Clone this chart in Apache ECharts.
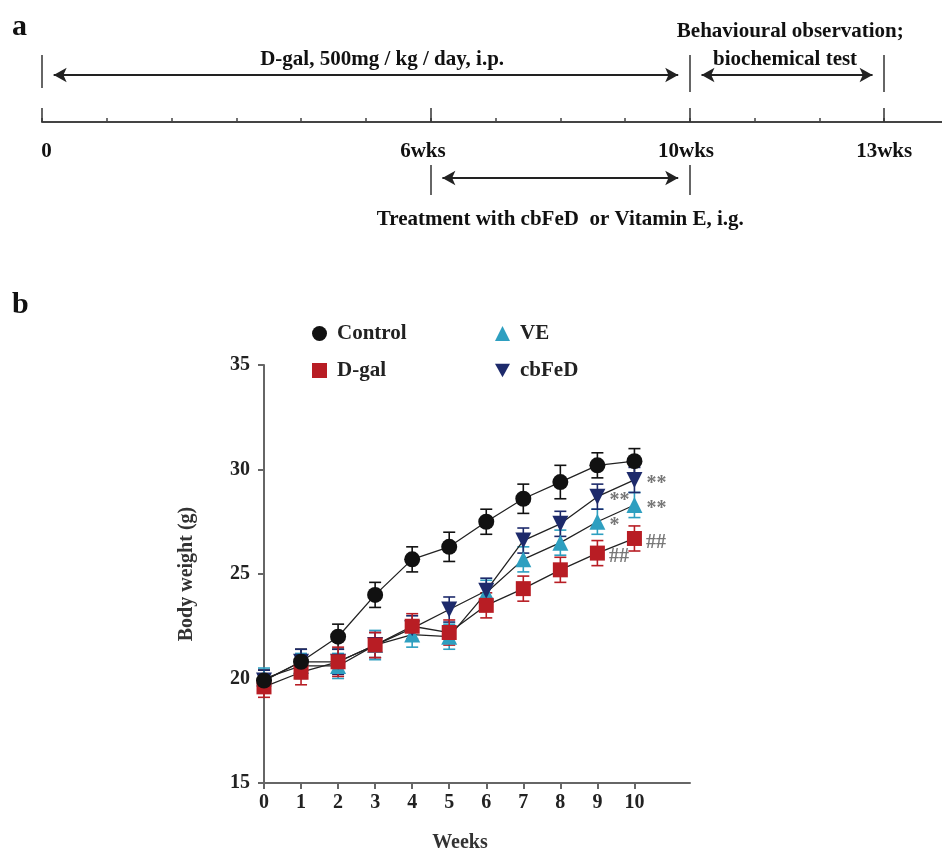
<!DOCTYPE html>
<html>
<head>
<meta charset="utf-8">
<title>Body weight</title>
<script src="https://cdn.jsdelivr.net/npm/echarts@6/dist/echarts.min.js"></script>
<style>
  html, body { margin: 0; padding: 0; background: #fff; }
  #main { width: 942px; height: 850px; }
</style>
</head>
<body>
<div id="main"></div>
<script>
// panel b data (g, mean and error bar)
const weeks = [0, 1, 2, 3, 4, 5, 6, 7, 8, 9, 10];
const control = [19.9, 20.8, 22.0, 24.0, 25.7, 26.3, 27.5, 28.6, 29.4, 30.2, 30.4];
const controlErr = [0.5, 0.6, 0.6, 0.6, 0.6, 0.7, 0.6, 0.7, 0.8, 0.6, 0.6];
const dgal = [19.6, 20.3, 20.8, 21.6, 22.5, 22.2, 23.5, 24.3, 25.2, 26.0, 26.7];
const dgalErr = [0.5, 0.6, 0.7, 0.6, 0.6, 0.6, 0.6, 0.6, 0.6, 0.6, 0.6];
const ve = [20.0, 20.6, 20.6, 21.6, 22.1, 22.0, 24.1, 25.7, 26.5, 27.5, 28.3];
const veErr = [0.5, 0.6, 0.6, 0.7, 0.6, 0.6, 0.6, 0.6, 0.6, 0.6, 0.6];
const cbfed = [19.9, 20.8, 20.8, 21.6, 22.4, 23.3, 24.2, 26.6, 27.4, 28.7, 29.5];
const cbfedErr = [0.5, 0.6, 0.6, 0.6, 0.6, 0.6, 0.6, 0.6, 0.6, 0.6, 0.6];
// significance marks (index = week)
const dgalMarks = ['', '', '', '', '', '', '', '', '', '##', '##'];
const veMarks = ['', '', '', '', '', '', '', '', '', '*', '**'];
const cbfedMarks = ['', '', '', '', '', '', '', '', '', '**', '**'];
const yTicks = [15, 20, 25, 30, 35];

// panel a: timeline in weeks
const timelineTicks = [0, 6, 10, 13];
const timelineLabels = ['0', '6wks', '10wks', '13wks'];
const phaseFrom = [0, 10, 6];
const phaseTo = [10, 13, 10];
const phaseText = ['D-gal, 500mg / kg / day, i.p.', 'biochemical test', 'Treatment with cbFeD  or Vitamin E, i.g.'];
const phaseSide = [1, 1, -1]; // above / below the time line

const SERIF = '"Liberation Serif", "DejaVu Serif", serif';
const RED = '#b81d24', CYAN = '#2e9fc0', NAVY = '#1d2a6b', BLACK = '#111';
const DOWN = 'path://M0,0L10,0L5,9Z';

var chart = echarts.init(document.getElementById('main'), null, { renderer: 'canvas' });

function errSeries(name, vals, errs, color) {
  return {
    name: name + ' sem',
    type: 'custom',
    xAxisIndex: 0, yAxisIndex: 0,
    z: 1,
    data: weeks.map((w, i) => [w, vals[i] - errs[i], vals[i] + errs[i]]),
    renderItem: function (params, api) {
      const lo = api.coord([api.value(0), api.value(1)]);
      const hi = api.coord([api.value(0), api.value(2)]);
      const w = 6;
      const style = { stroke: color, lineWidth: 1.6 };
      return {
        type: 'group',
        children: [
          { type: 'line', shape: { x1: lo[0], y1: lo[1], x2: hi[0], y2: hi[1] }, style: style },
          { type: 'line', shape: { x1: lo[0] - w, y1: lo[1], x2: lo[0] + w, y2: lo[1] }, style: style },
          { type: 'line', shape: { x1: hi[0] - w, y1: hi[1], x2: hi[0] + w, y2: hi[1] }, style: style }
        ]
      };
    }
  };
}

function lineSeries(name, vals, color, symbol, size, marks) {
  return {
    name: name,
    type: 'line',
    xAxisIndex: 0, yAxisIndex: 0,
    z: 3,
    color: color,
    symbol: symbol,
    symbolSize: size,
    showAllSymbol: true,
    data: weeks.map((w, i) => [w, vals[i]]),
    lineStyle: { color: '#222', width: 1.3 },
    itemStyle: { color: color, opacity: 1 },
    label: {
      show: !!marks,
      position: 'right',
      distance: 4,
      offset: [0, 4],
      color: '#777',
      fontFamily: SERIF,
      fontSize: 20,
      fontWeight: 'bold',
      formatter: p => (marks ? marks[p.dataIndex] : '')
    }
  };
}

// timeline helpers
const arrowLines = phaseFrom.map((f, i) => {
  const y = phaseSide[i] > 0 ? 47 : -56;
  return [{ coord: [f + 0.18, y] }, { coord: [phaseTo[i] - 0.18, y] }];
});
const fences = [
  [{ coord: [0, 34] }, { coord: [0, 67] }],
  [{ coord: [10, 30] }, { coord: [10, 67] }],
  [{ coord: [13, 30] }, { coord: [13, 67] }],
  [{ coord: [6, -43] }, { coord: [6, -73] }],
  [{ coord: [10, -43] }, { coord: [10, -73] }]
].concat(timelineTicks.map(t => [{ coord: [t, 0] }, { coord: [t, 14] }]));

const labelShift = [0.07, -0.12, -0.06, 0.0];
const timelineText = [
  [5.25, 64, phaseText[0]],
  [11.55, 92, 'Behavioural observation;'],
  [11.47, 64, phaseText[1]],
  [8.0, -96, phaseText[2]]
].concat(timelineTicks.map((t, i) => [t + labelShift[i], -28, timelineLabels[i]]));

var option = {
  animation: false,
  backgroundColor: '#fff',
  textStyle: { fontFamily: SERIF },
  graphic: [
    { type: 'text', left: 12, top: 12, style: { text: 'a', font: 'bold 30px ' + SERIF, fill: '#111' } },
    { type: 'text', left: 12, top: 290, style: { text: 'b', font: 'bold 30px ' + SERIF, fill: '#111' } }
  ],
  legend: [
    {
      orient: 'vertical', left: 312, top: 323, padding: 0,
      itemWidth: 15, itemHeight: 15, itemGap: 16,
      selectedMode: false,
      data: [{ name: 'Control', icon: 'circle' }, { name: 'D-gal', icon: 'rect' }],
      textStyle: { fontFamily: SERIF, fontSize: 21, fontWeight: 'bold', color: '#222', padding: [0, 0, 0, 5] }
    },
    {
      orient: 'vertical', left: 495, top: 323, padding: 0,
      itemWidth: 15, itemHeight: 15, itemGap: 16,
      selectedMode: false,
      data: [{ name: 'VE', icon: 'triangle' }, { name: 'cbFeD', icon: DOWN }],
      textStyle: { fontFamily: SERIF, fontSize: 21, fontWeight: 'bold', color: '#222', padding: [0, 0, 0, 5] }
    }
  ],
  grid: [
    { left: 264, top: 365, width: 426, height: 418, outerBoundsMode: 'none', containLabel: false },
    { left: 42, top: 22, width: 907, height: 200, outerBoundsMode: 'none', containLabel: false }
  ],
  xAxis: [
    {
      gridIndex: 0, type: 'value', min: 0, max: 11.5,
      name: 'Weeks', nameLocation: 'middle', nameGap: 50,
      nameTextStyle: { fontFamily: SERIF, fontSize: 20, fontWeight: 'bold', color: '#333', padding: [0, 34, 0, 0] },
      axisLine: { show: true, lineStyle: { color: '#666', width: 2 } },
      axisTick: { show: true, length: 6, customValues: weeks, lineStyle: { color: '#666', width: 2 } },
      axisLabel: { customValues: weeks, margin: 10, fontFamily: SERIF, fontSize: 20, fontWeight: 'bold', color: '#222' },
      splitLine: { show: false }
    },
    {
      gridIndex: 1, type: 'value', min: 0, max: 14, interval: 1,
      axisLine: { show: true, onZero: true, lineStyle: { color: '#444', width: 2 } },
      axisTick: { show: true, inside: true, length: 4, lineStyle: { color: '#444', width: 1.5 } },
      axisLabel: { show: false },
      splitLine: { show: false }
    }
  ],
  yAxis: [
    {
      gridIndex: 0, type: 'value', min: 15, max: 35, interval: 5,
      name: 'Body weight (g)', nameLocation: 'middle', nameGap: 67,
      nameTextStyle: { fontFamily: SERIF, fontSize: 20, fontWeight: 'bold', color: '#333' },
      axisLine: { show: true, lineStyle: { color: '#666', width: 2 } },
      axisTick: { show: true, length: 6, customValues: yTicks, lineStyle: { color: '#666', width: 2 } },
      axisLabel: { margin: 14, fontFamily: SERIF, fontSize: 20, fontWeight: 'bold', color: '#222' },
      splitLine: { show: false }
    },
    { gridIndex: 1, type: 'value', min: -100, max: 100, show: false }
  ],
  series: [
    errSeries('Control', control, controlErr, BLACK),
    errSeries('VE', ve, veErr, CYAN),
    errSeries('cbFeD', cbfed, cbfedErr, NAVY),
    errSeries('D-gal', dgal, dgalErr, RED),
    lineSeries('VE', ve, CYAN, 'triangle', 16, veMarks),
    lineSeries('cbFeD', cbfed, NAVY, DOWN, 16, cbfedMarks),
    lineSeries('D-gal', dgal, RED, 'rect', 15, dgalMarks),
    lineSeries('Control', control, BLACK, 'circle', 16, null),
    {
      type: 'line', xAxisIndex: 1, yAxisIndex: 1, data: [], silent: true,
      markLine: {
        silent: true, animation: false,
        symbol: ['arrow', 'arrow'], symbolSize: [11, 13],
        label: { show: false },
        lineStyle: { type: 'solid', color: '#222', width: 2.2 },
        data: arrowLines
      }
    },
    {
      type: 'line', xAxisIndex: 1, yAxisIndex: 1, data: [], silent: true,
      markLine: {
        silent: true, animation: false,
        symbol: ['none', 'none'],
        label: { show: false },
        lineStyle: { type: 'solid', color: '#333', width: 1.5 },
        data: fences
      }
    },
    {
      type: 'scatter', xAxisIndex: 1, yAxisIndex: 1, symbolSize: 0, silent: true,
      data: timelineText,
      itemStyle: { color: '#111', opacity: 1 },
      label: {
        show: true, position: 'top', distance: 0, offset: [0, 12],
        fontFamily: SERIF, fontSize: 21, fontWeight: 'bold', color: '#111', opacity: 1,
        formatter: p => p.value[2]
      }
    }
  ]
};

chart.setOption(option);
</script>
</body>
</html>
